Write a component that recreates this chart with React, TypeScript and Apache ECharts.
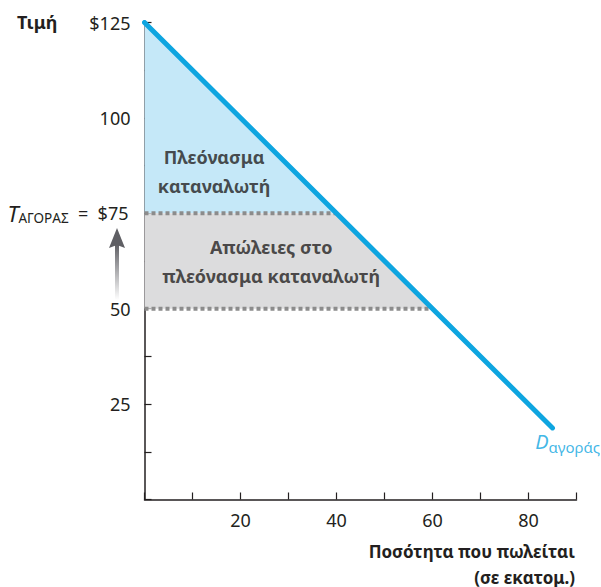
import { useEffect, useRef } from "react";
import * as echarts from "echarts";

// Market demand curve (quantity in millions, price in $)
const demandQty = [0, 85];
const demandPrice = [125, 18.75];

// Price buyers pay with the tax, and price sellers receive
const buyerPrice = 75;
const sellerPrice = 50;
const qtyAtBuyerPrice = 40;
const qtyAtSellerPrice = 60;

// Axis ticks
const xMax = 90;
const yMax = 125;
const xTickStep = 10;
const yTickStep = 12.5;
const xLabelValues = [20, 40, 60, 80];
const yLabelValues = [25, 50, 100, 125];

// Shaded regions (quantity, price)
const surplusRegion = [
  [0, 125],
  [0, buyerPrice],
  [qtyAtBuyerPrice, buyerPrice],
];
const lostSurplusRegion = [
  [0, buyerPrice],
  [qtyAtBuyerPrice, buyerPrice],
  [qtyAtSellerPrice, sellerPrice],
  [0, sellerPrice],
];

// Region labels
const surplusLabelPos = [14.5, 86];
const lostLabelPos = [26.4, 62.4];
const demandLabelPos = [81.4, 15.2];

const FONT = "'Noto Sans', 'Open Sans', sans-serif";
const INK = "#231f20";
const BLUE = "#0ea5e0";

export default function App() {
  const ref = useRef<HTMLDivElement>(null);

  useEffect(() => {
    if (!ref.current) return;
    const chart = echarts.init(ref.current, undefined, { renderer: "svg" });

    const polygonSeries = (pts: number[][], fill: string) => ({
      type: "custom",
      silent: true,
      z: 1,
      data: [[0, 0]],
      renderItem: (_p: any, api: any) => ({
        type: "polygon",
        shape: { points: pts.map((p) => api.coord(p)) },
        style: { fill },
      }),
    });

    const dotted = (x1: number, y: number) => ({
      type: "line",
      silent: true,
      z: 3,
      symbol: "none",
      data: [
        [0, y],
        [x1, y],
      ],
      lineStyle: { color: "#8c8c8c", width: 4, type: [4, 3] },
    });

    chart.setOption({
      animation: false,
      grid: {
        left: 144.5,
        right: 24.5,
        top: 22.5,
        bottom: 87.5,
        containLabel: false,
        outerBoundsMode: "none",
      },
      textStyle: { fontFamily: FONT },
      xAxis: {
        type: "value",
        min: 0,
        max: xMax,
        interval: xTickStep,
        splitLine: { show: false },
        axisLine: { lineStyle: { color: INK, width: 1.5 } },
        axisTick: { inside: true, length: 7, lineStyle: { color: INK, width: 1.2 } },
        axisLabel: {
          color: INK,
          fontSize: 18,
          fontFamily: FONT,
          margin: 11,
          formatter: (v: number) => (xLabelValues.includes(v) ? String(v) : ""),
        },
      },
      yAxis: {
        type: "value",
        min: 0,
        max: yMax,
        interval: yTickStep,
        splitLine: { show: false },
        axisLine: { lineStyle: { color: INK, width: 1.5 } },
        axisTick: { inside: true, length: 7, lineStyle: { color: INK, width: 1.2 } },
        axisLabel: {
          color: INK,
          fontSize: 18,
          fontFamily: FONT,
          margin: 14,
          formatter: (v: number) => {
            if (v === yMax) return "$" + v;
            if (v === buyerPrice) return "{t|T}{s|ΑΓΟΡΑΣ}{n|  =  $" + v + "}";
            return yLabelValues.includes(v) ? String(v) : "";
          },
          rich: {
            t: { fontSize: 22, fontStyle: "italic", color: INK, fontFamily: FONT },
            s: { fontSize: 13.5, color: INK, fontFamily: FONT, padding: [10, 0, 0, 0] },
            n: { fontSize: 18, color: INK, fontFamily: FONT, padding: [0, 2, 0, 0] },
          },
        },
      },
      series: [
        polygonSeries(surplusRegion, "#c5e8f8"),
        polygonSeries(lostSurplusRegion, "#dcdcdd"),
        dotted(qtyAtBuyerPrice, buyerPrice),
        dotted(qtyAtSellerPrice, sellerPrice),
        {
          type: "line",
          silent: true,
          z: 4,
          symbol: "none",
          data: demandQty.map((q, i) => [q, demandPrice[i]]),
          lineStyle: { color: BLUE, width: 5, cap: "round" },
        },
        {
          type: "scatter",
          silent: true,
          z: 5,
          symbolSize: 0,
          data: [
            { value: surplusLabelPos, name: "Πλεόνασμα\nκαταναλωτή" },
            { value: lostLabelPos, name: "Απώλειες στο\nπλεόνασμα καταναλωτή" },
          ],
          label: {
            show: true,
            position: "inside",
            formatter: (p: any) => p.name,
            color: INK,
            fontSize: 18,
            fontWeight: "bold",
            fontFamily: FONT,
            lineHeight: 29,
            align: "center",
          },
        },
        {
          type: "scatter",
          silent: true,
          z: 5,
          symbolSize: 0,
          data: [{ value: demandLabelPos }],
          label: {
            show: true,
            position: "inside",
            align: "left",
            formatter: "{d|D}{s|αγοράς}",
            rich: {
              d: { fontSize: 20, fontStyle: "italic", color: BLUE, fontFamily: FONT },
              s: { fontSize: 15, color: BLUE, fontFamily: FONT, padding: [11, 0, 0, 0] },
            },
          },
        },
      ],
      graphic: [
        {
          type: "text",
          silent: true,
          x: 17,
          y: 22,
          style: {
            text: "Τιμή",
            fill: INK,
            fontSize: 18,
            fontWeight: "bold",
            fontFamily: FONT,
            align: "left",
            verticalAlign: "middle",
          },
        },
        {
          type: "text",
          silent: true,
          x: 575,
          y: 538,
          style: {
            text: "Ποσότητα που πωλείται\n(σε εκατομ.)",
            fill: INK,
            fontSize: 17,
            fontWeight: "bold",
            fontFamily: FONT,
            align: "right",
            verticalAlign: "top",
            lineHeight: 26,
          },
        },
        {
          type: "rect",
          silent: true,
          shape: { x: 115, y: 244, width: 4, height: 56 },
          style: {
            fill: {
              type: "linear",
              x: 0,
              y: 1,
              x2: 0,
              y2: 0,
              colorStops: [
                { offset: 0, color: "rgba(95,95,100,0)" },
                { offset: 1, color: "#5f5f64" },
              ],
            },
          },
        },
        {
          type: "polygon",
          silent: true,
          shape: {
            points: [
              [117, 228],
              [125, 248],
              [117, 245],
              [109, 248],
            ],
          },
          style: { fill: "#5f5f64" },
        },
      ],
    });

    return () => chart.dispose();
  }, []);

  return (
    <div
      ref={ref}
      style={{ position: "absolute", left: 0, top: 0, width: 601, height: 587 }}
    />
  );
}
